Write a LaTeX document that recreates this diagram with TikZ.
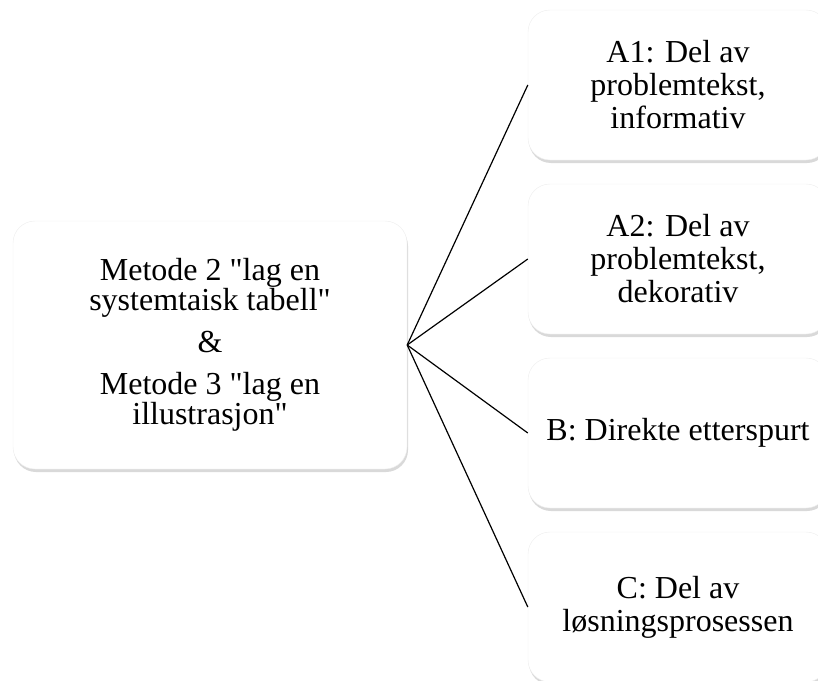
\documentclass[tikz,border=0pt]{standalone}
\usepackage{fontspec}
\setmainfont{Liberation Serif}[Ligatures=TeXOff]
\usetikzlibrary{shadows}

\begin{document}
\begin{tikzpicture}[x=1pt, y=-1pt,
    hub/.style={fill=white, draw=black!7, rounded corners=22pt, minimum width=394pt, minimum height=248pt, align=center,
      font=\fontsize{32}{30}\selectfont, drop shadow={shadow xshift=1pt, shadow yshift=-3pt, opacity=0.3}},
    leaf/.style={fill=white, draw=black!7, rounded corners=22pt, minimum width=300pt, minimum height=150pt, align=center,
      font=\fontsize{32}{33}\selectfont, drop shadow={shadow xshift=1pt, shadow yshift=-3pt, opacity=0.3}},
    spoke/.style={line width=1.2pt, black},
]
  \useasboundingbox (0,0) rectangle (818,680);

  % Left: the two methods
  \node[hub] (hub) at (210,345) {Metode 2 "lag en\\systemtaisk tabell"\\[12pt]\&\\[12pt]Metode 3 "lag en\\illustrasjon"};

  % Right: the four categories
  \node[leaf] (a1) at (678,85) {A1: Del av\\problemtekst,\\informativ};
  \node[leaf] (a2) at (678,259) {A2: Del av\\problemtekst,\\dekorativ};
  \node[leaf] (b) at (678,433) {B: Direkte etterspurt};
  \node[leaf] (c) at (678,607) {C: Del av\\løsningsprosessen};

  % Spokes
  \draw[spoke] (hub.east) -- (a1.west);
  \draw[spoke] (hub.east) -- (a2.west);
  \draw[spoke] (hub.east) -- (b.west);
  \draw[spoke] (hub.east) -- (c.west);
\end{tikzpicture}
\end{document}
